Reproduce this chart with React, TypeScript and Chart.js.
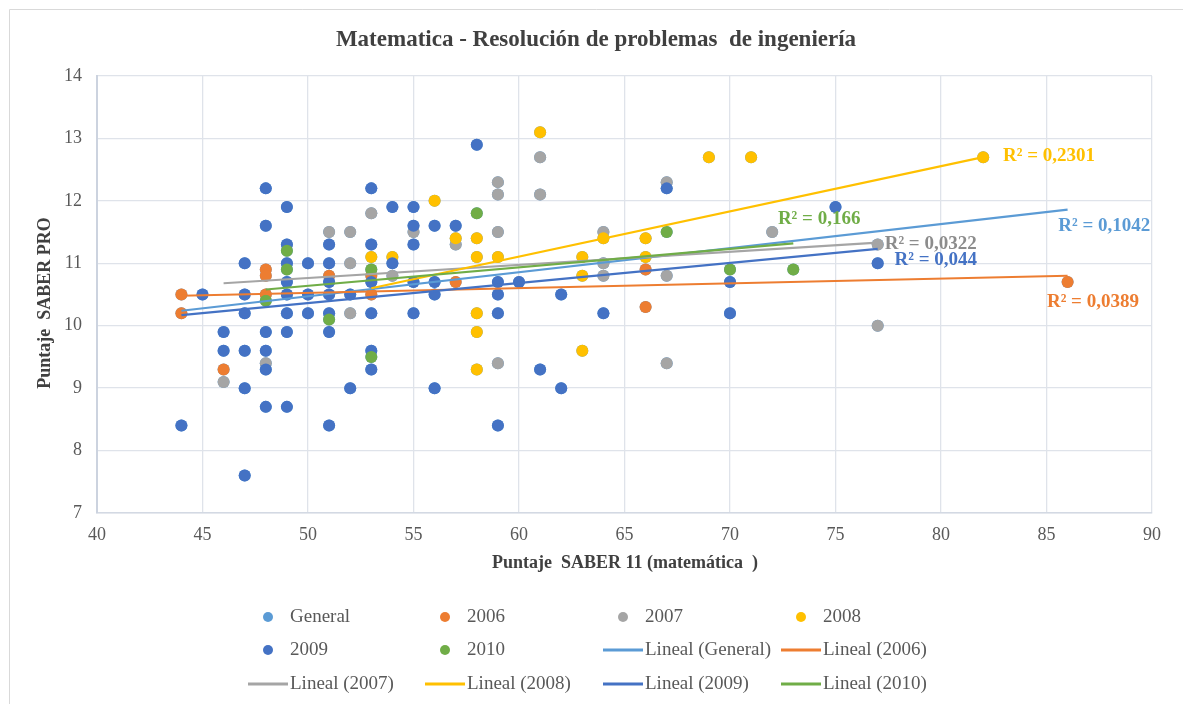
import React, { useEffect, useRef } from 'react';
import { Chart, registerables } from 'chart.js';

Chart.register(...registerables);

// ---------------- DATA ----------------
const chartTitle = 'Matematica - Resolución de problemas  de ingeniería';
const xAxisTitle = 'Puntaje  SABER 11 (matemática  )';
const yAxisTitle = 'Puntaje  SABER PRO';

const xMin = 40, xMax = 90, xStep = 5;
const yMin = 7, yMax = 14, yStep = 1;

const pts2006: [number, number][] = [
  [44, 10.5], [44, 10.2], [46, 9.3], [48, 10.9], [48, 10.8], [48, 10.5], [51, 10.8],
  [53, 10.8], [53, 10.5], [57, 10.7], [66, 10.9], [66, 10.3], [86, 10.7],
];
const pts2007: [number, number][] = [
  [46, 9.1], [48, 9.4], [51, 11.5], [52, 11.5], [52, 11.0], [52, 10.2], [53, 11.8],
  [54, 10.8], [55, 11.5], [57, 11.3], [59, 12.3], [59, 12.1], [59, 11.5], [59, 9.4],
  [61, 12.7], [61, 12.1], [64, 11.5], [64, 11.0], [64, 10.8], [67, 12.3], [67, 10.8],
  [67, 9.4], [72, 11.5], [77, 11.3], [77, 10.0],
];
const pts2008: [number, number][] = [
  [53, 11.1], [54, 11.1], [56, 12.0], [57, 11.4], [58, 11.4], [58, 11.1], [58, 10.2],
  [58, 9.9], [58, 9.3], [59, 11.1], [61, 13.1], [63, 11.1], [63, 10.8], [63, 9.6],
  [64, 11.4], [66, 11.4], [66, 11.1], [69, 12.7], [71, 12.7], [82, 12.7],
];
const pts2009: [number, number][] = [
  [44, 8.4], [45, 10.5], [46, 9.9], [46, 9.6],
  [47, 11.0], [47, 10.5], [47, 10.2], [47, 9.6], [47, 9.0], [47, 7.6],
  [48, 12.2], [48, 11.6], [48, 9.9], [48, 9.6], [48, 9.3], [48, 8.7],
  [49, 11.9], [49, 11.3], [49, 11.0], [49, 10.7], [49, 10.5], [49, 10.2], [49, 9.9], [49, 8.7],
  [50, 11.0], [50, 10.5], [50, 10.2],
  [51, 11.3], [51, 11.0], [51, 10.7], [51, 10.5], [51, 10.2], [51, 9.9], [51, 8.4],
  [52, 10.5], [52, 9.0],
  [53, 12.2], [53, 11.3], [53, 10.7], [53, 10.2], [53, 9.6], [53, 9.3],
  [54, 11.9], [54, 11.0],
  [55, 11.9], [55, 11.6], [55, 11.3], [55, 10.7], [55, 10.2],
  [56, 11.6], [56, 10.7], [56, 10.5], [56, 9.0],
  [57, 11.6], [58, 12.9],
  [59, 10.7], [59, 10.5], [59, 10.2], [59, 8.4],
  [60, 10.7], [61, 9.3], [62, 10.5], [62, 9.0], [64, 10.2], [67, 12.2],
  [70, 10.7], [70, 10.2], [75, 11.9], [77, 11.0],
];
const pts2010: [number, number][] = [
  [48, 10.4], [49, 11.2], [49, 10.9], [51, 10.1], [53, 10.9], [53, 9.5], [58, 11.8],
  [67, 11.5], [70, 10.9], [73, 10.9],
];

// Linear trendline end points (x, y)
const trendGeneral: [number, number][] = [[44, 10.24], [86, 11.86]];
const trend2006: [number, number][] = [[44, 10.48], [86, 10.8]];
const trend2007: [number, number][] = [[46, 10.68], [77, 11.33]];
const trend2008: [number, number][] = [[53, 10.6], [82, 12.7]];
const trend2009: [number, number][] = [[44, 10.17], [77, 11.23]];
const trend2010: [number, number][] = [[48, 10.58], [73, 11.32]];

const r2Texts = ['R² = 0,1042', 'R² = 0,0389', 'R² = 0,0322', 'R² = 0,2301', 'R² = 0,044', 'R² = 0,166'];
// anchor (left x, middle y) in data units
const r2AnchorX = [85.56, 85.02, 77.33, 82.94, 77.8, 72.27];
const r2AnchorY = [11.6, 10.38, 11.3, 12.72, 11.05, 11.7];

const seriesNames = ['General', '2006', '2007', '2008', '2009', '2010'];
const seriesColors = ['#5B9BD5', '#ED7D31', '#A5A5A5', '#FFC000', '#4472C4', '#70AD47'];
const r2Colors = ['#5B9BD5', '#ED7D31', '#8C8C8C', '#FFC000', '#4472C4', '#70AD47'];

const legendLabels = [
  'General', '2006', '2007', '2008',
  '2009', '2010', 'Lineal (General)', 'Lineal (2006)',
  'Lineal (2007)', 'Lineal (2008)', 'Lineal (2009)', 'Lineal (2010)',
];

// ---------------- CHART ----------------
const FONT = "'Liberation Serif', 'Times New Roman', serif";

const toXY = (a: [number, number][]) => a.map(([x, y]) => ({ x, y }));

export default function App() {
  const ref = useRef<HTMLCanvasElement | null>(null);

  useEffect(() => {
    if (!ref.current) return;
    const allPts = [...pts2006, ...pts2007, ...pts2008, ...pts2009, ...pts2010];
    const seriesPts = [allPts, pts2006, pts2007, pts2008, pts2009, pts2010];
    const trends = [trendGeneral, trend2006, trend2007, trend2008, trend2009, trend2010];

    const datasets: any[] = [];
    trends.forEach((t, i) => {
      datasets.push({
        label: 'Lineal (' + seriesNames[i] + ')',
        data: toXY(t),
        showLine: true,
        borderColor: seriesColors[i],
        backgroundColor: seriesColors[i],
        borderWidth: 2.2,
        pointRadius: 0,
        order: 5 - i,
      });
    });
    seriesPts.forEach((p, i) => {
      datasets.push({
        label: seriesNames[i],
        data: toXY(p),
        showLine: false,
        backgroundColor: seriesColors[i],
        borderColor: seriesColors[i],
        borderWidth: 0,
        pointRadius: 6,
        order: 20 - i,
      });
    });

    const overlay = {
      id: 'overlay',
      afterDraw(chart: any) {
        const ctx = chart.ctx as CanvasRenderingContext2D;
        const xs = chart.scales.x, ys = chart.scales.y;
        ctx.save();
        // outer border
        ctx.strokeStyle = '#d9d9d9';
        ctx.lineWidth = 1;
        ctx.beginPath();
        ctx.moveTo(9.5, 704);
        ctx.lineTo(9.5, 9.5);
        ctx.lineTo(1183, 9.5);
        ctx.stroke();

        // title
        ctx.fillStyle = '#404040';
        ctx.textAlign = 'center';
        ctx.textBaseline = 'middle';
        ctx.font = 'bold 23px ' + FONT;
        ctx.fillText(chartTitle, 596, 40);

        // axis titles
        ctx.font = 'bold 18px ' + FONT;
        ctx.fillText(xAxisTitle, 625, 563);
        ctx.save();
        ctx.translate(45, 303);
        ctx.rotate(-Math.PI / 2);
        ctx.fillText(yAxisTitle, 0, 0);
        ctx.restore();

        // R² labels
        ctx.font = 'bold 19px ' + FONT;
        ctx.textAlign = 'left';
        r2Texts.forEach((t, i) => {
          ctx.fillStyle = r2Colors[i];
          ctx.fillText(t, xs.getPixelForValue(r2AnchorX[i]), ys.getPixelForValue(r2AnchorY[i]));
        });

        // legend
        const colText = [290, 467, 645, 823];
        const rowY = [617, 650, 684];
        ctx.font = '19px ' + FONT;
        legendLabels.forEach((lab, k) => {
          const r = Math.floor(k / 4), c = k % 4;
          const tx = colText[c], ty = rowY[r];
          if (k < 6) {
            ctx.fillStyle = seriesColors[k];
            ctx.beginPath();
            ctx.arc(tx - 22, ty, 5, 0, Math.PI * 2);
            ctx.fill();
          } else {
            ctx.strokeStyle = seriesColors[k - 6];
            ctx.lineWidth = 3;
            ctx.beginPath();
            ctx.moveTo(tx - 42, ty);
            ctx.lineTo(tx - 2, ty);
            ctx.stroke();
          }
          ctx.fillStyle = '#595959';
          ctx.textAlign = 'left';
          ctx.fillText(lab, tx, ty);
        });
        ctx.restore();
      },
    };

    const chart = new Chart(ref.current, {
      type: 'scatter',
      data: { datasets },
      options: {
        responsive: false,
        animation: false,
        layout: { padding: { left: 0, top: 76, right: 31, bottom: 161 } },
        plugins: {
          legend: { display: false },
          title: { display: false },
          tooltip: { enabled: false },
        },
        scales: {
          x: {
            type: 'linear',
            min: xMin, max: xMax,
            afterFit: (s: any) => { s.height = 30; },
            ticks: { stepSize: xStep, color: '#595959', font: { family: FONT, size: 18 }, padding: 11 },
            grid: { color: '#dfe3ea', lineWidth: 1.3, drawTicks: false },
            border: { color: '#d3d9e3', width: 1.5 },
          },
          y: {
            type: 'linear',
            min: yMin, max: yMax,
            afterFit: (s: any) => { s.width = 97; },
            ticks: { stepSize: yStep, color: '#595959', font: { family: FONT, size: 18 }, padding: 15 },
            grid: { color: '#dfe3ea', lineWidth: 1.3, drawTicks: false },
            border: { color: '#ccd3df', width: 2 },
          },
        },
      },
      plugins: [overlay],
    });
    return () => chart.destroy();
  }, []);

  return (
    <div style={{ position: 'fixed', left: 0, top: 0, width: 1183, height: 704, background: '#fff' }}>
      <canvas ref={ref} width={1183} height={704} style={{ display: 'block' }} />
    </div>
  );
}
